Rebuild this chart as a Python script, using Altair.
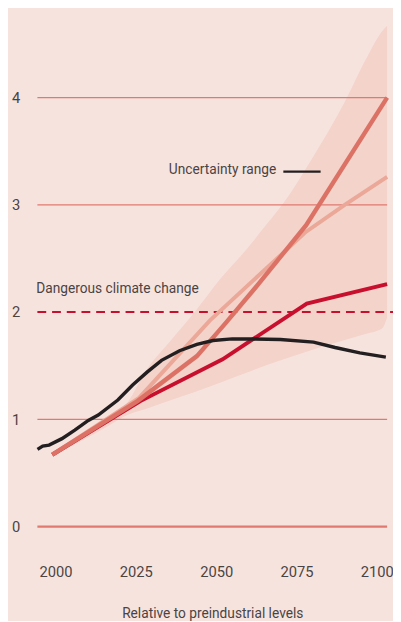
import altair as alt
import pandas as pd

# --- data ---
black_years = [1994.4, 1996.0, 1998.0, 2002.0, 2006.0, 2010.2, 2013.3, 2019.4, 2024.0, 2028.5, 2033.0, 2038.6, 2044.0, 2049.0, 2055.0, 2062.0, 2070.0, 2080.3, 2087.0, 2094.7, 2102.8]
black_vals = [0.72, 0.75, 0.76, 0.82, 0.90, 0.99, 1.04, 1.18, 1.32, 1.44, 1.55, 1.64, 1.70, 1.735, 1.75, 1.75, 1.745, 1.72, 1.67, 1.62, 1.58]

salmon_years = [1999.0, 2025.5, 2044.0, 2053.0, 2062.0, 2078.0, 2103.2]
salmon_vals = [0.67, 1.17, 1.59, 1.90, 2.22, 2.81, 4.0]

light_years = [1999.0, 2026.0, 2048.0, 2057.0, 2078.0, 2090.0, 2103.2]
light_vals = [0.67, 1.20, 1.92, 2.17, 2.75, 3.0, 3.26]

crimson_years = [1999.0, 2026.4, 2052.0, 2078.2, 2103.2]
crimson_vals = [0.67, 1.17, 1.56, 2.08, 2.26]

band_years = [1999.0, 2010.0, 2016.0, 2022.4, 2028.5, 2036.0, 2043.8, 2051.0, 2059.0, 2066.0, 2071.0, 2080.0, 2090.0, 2097.0, 2101.7, 2103.2]
band_low = [0.66, 0.83, 0.93, 1.04, 1.10, 1.18, 1.26, 1.34, 1.43, 1.51, 1.56, 1.65, 1.74, 1.80, 1.85, 1.95]
band_high = [0.68, 0.89, 1.00, 1.16, 1.47, 1.74, 2.02, 2.30, 2.57, 2.83, 3.02, 3.44, 3.96, 4.38, 4.62, 4.67]

grid_vals = [0, 1, 3, 4]
grid_widths = [2.2, 1.2, 1.2, 1.2]
danger_val = 2

x_ticks = [2000, 2025, 2050, 2075, 2100]
y_ticks = [0, 1, 2, 3, 4]

BG = "#F7E3DE"
FONT = "Roboto"
TXT = "#4A4343"

X_DOM = [1994.36, 2103.2]
Y_DOM = [0, 4.75]

xs = alt.Scale(domain=X_DOM, nice=False, zero=False)
ys = alt.Scale(domain=Y_DOM, nice=False, zero=False)

def line_df(years, vals, name):
    return pd.DataFrame({"year": years, "value": vals, "series": name})

band_df = pd.DataFrame({"year": band_years, "low": band_low, "high": band_high})
band = alt.Chart(band_df).mark_area(color="#F3D3CA", opacity=1, interpolate="monotone").encode(
    x=alt.X("year:Q", scale=xs,
            axis=alt.Axis(values=x_ticks, format="d", domain=False, ticks=False, grid=False,
                          labelFont=FONT, labelFontSize=15, labelColor=TXT, labelPadding=39,
                          title="Relative to preindustrial levels", titleFont=FONT, titleFontSize=14,
                          titleFontWeight="normal", titleColor=TXT, titlePadding=28)),
    y=alt.Y("low:Q", scale=ys,
            axis=alt.Axis(values=y_ticks, format="d", domain=False, ticks=False, grid=False,
                          labelFont=FONT, labelFontSize=15, labelColor=TXT, labelPadding=18,
                          title=None)),
    y2="high:Q",
)

grid_df = pd.DataFrame({"value": grid_vals, "w": grid_widths})
grid = alt.Chart(grid_df).mark_rule(color="#E07A70").encode(
    y=alt.Y("value:Q", scale=ys),
    strokeWidth=alt.StrokeWidth("w:Q", scale=None),
)

danger = alt.Chart(pd.DataFrame({"value": [danger_val]})).mark_rule(
    color="#C8102E", strokeWidth=2, strokeDash=[9, 6], clip=False
).encode(
    y=alt.Y("value:Q", scale=ys),
    x=alt.value(0), x2=alt.value(363),
)

def line(years, vals, name, color, width):
    return alt.Chart(line_df(years, vals, name)).mark_line(
        color=color, strokeWidth=width, interpolate="linear", strokeCap="butt"
    ).encode(x=alt.X("year:Q", scale=xs), y=alt.Y("value:Q", scale=ys))

l_light = line(light_years, light_vals, "light", "#EBA797", 4)
l_crimson = line(crimson_years, crimson_vals, "crimson", "#C8102E", 4)
l_salmon = line(salmon_years, salmon_vals, "salmon", "#DC7265", 4.5)
l_black = line(black_years, black_vals, "black", "#231F20", 3.5)

ann_df = pd.DataFrame({"year": [1994.0], "value": [2.21], "t": ["Dangerous climate change"]})
ann = alt.Chart(ann_df).mark_text(align="left", baseline="middle", font=FONT, fontSize=14, color=TXT).encode(
    x=alt.X("year:Q", scale=xs), y=alt.Y("value:Q", scale=ys), text="t:N")

unc_df = pd.DataFrame({"year": [2068.7], "value": [3.32], "t": ["Uncertainty range"]})
unc = alt.Chart(unc_df).mark_text(align="right", baseline="middle", font=FONT, fontSize=14, color=TXT).encode(
    x=alt.X("year:Q", scale=xs), y=alt.Y("value:Q", scale=ys), text="t:N")

leg_df = pd.DataFrame({"x1": [2070.9], "x2": [2082.5], "value": [3.31]})
leg = alt.Chart(leg_df).mark_rule(color="#231F20", strokeWidth=2.2).encode(
    x=alt.X("x1:Q", scale=xs), x2="x2:Q", y=alt.Y("value:Q", scale=ys))

chart = alt.layer(band, grid, danger, l_light, l_crimson, l_salmon, l_black, ann, unc, leg).properties(
    width=357, height=520,
    autosize=alt.AutoSizeParams(type="none"),
    padding={"left": 30, "top": 3, "right": 6, "bottom": 90},
    background=BG,
).configure_view(stroke=None)

chart.save("out.html", embed_options={"renderer": "svg", "actions": False})
